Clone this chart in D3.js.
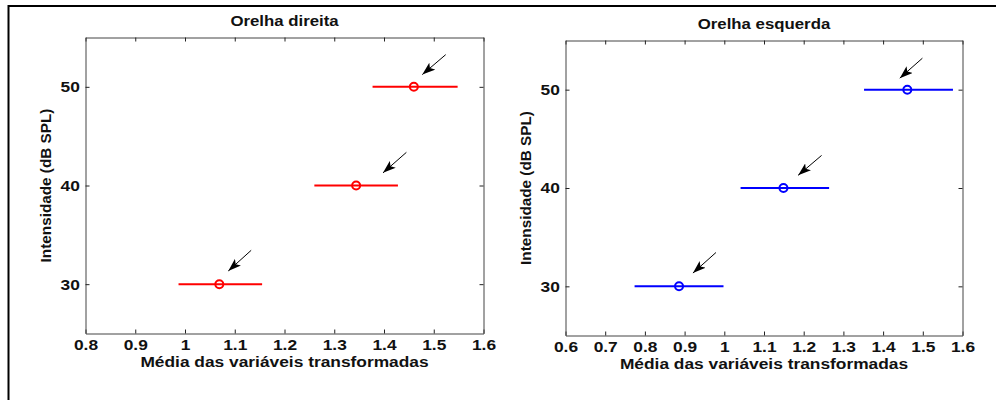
<!DOCTYPE html>
<html>
<head>
<meta charset="utf-8">
<script src="https://cdn.jsdelivr.net/npm/d3@7"></script>
<style>
  body { margin: 0; background: #fff; }
  svg { display: block; font-family: "Liberation Sans", Arial, sans-serif; }
</style>
</head>
<body>
<svg id="chart" width="996" height="400"></svg>
<script>
// intensity levels (dB SPL)
const levels = [30, 40, 50];

// right ear: mean of transformed variables, with interval ends
const rightMean = [1.069, 1.344, 1.460];
const rightLow = [0.987, 1.260, 1.377];
const rightHigh = [1.155, 1.428, 1.548];
// arrow annotations (data coords): tail -> tip
const rightArrowTailX = [1.133, 1.445, 1.524];
const rightArrowTailY = [33.43, 43.36, 53.26];
const rightArrowTipX = [1.087, 1.398, 1.477];
const rightArrowTipY = [31.34, 41.28, 51.24];

// left ear
const leftMean = [0.886, 1.149, 1.461];
const leftLow = [0.774, 1.041, 1.352];
const leftHigh = [0.998, 1.264, 1.576];
const leftArrowTailX = [0.979, 1.245, 1.499];
const leftArrowTailY = [33.44, 43.31, 53.2];
const leftArrowTipX = [0.921, 1.186, 1.442];
const leftArrowTipY = [31.35, 41.29, 51.17];

const yTicks = [30, 40, 50];
const rightXTicks = [0.8, 0.9, 1.0, 1.1, 1.2, 1.3, 1.4, 1.5, 1.6];
const leftXTicks = [0.6, 0.7, 0.8, 0.9, 1.0, 1.1, 1.2, 1.3, 1.4, 1.5, 1.6];

const svg = d3.select("#chart");
// the scanned figure is a little wider than tall, so text gets stretched a bit
const stretch = "scale(1.12,1)";

// figure frame (top and left edges only, as in the scan)
svg.append("line").attr("x1", 8).attr("x2", 996).attr("y1", 6).attr("y2", 6)
  .attr("stroke", "#000").attr("stroke-width", 2);
svg.append("line").attr("x1", 8.5).attr("x2", 8.5).attr("y1", 5).attr("y2", 400)
  .attr("stroke", "#000").attr("stroke-width", 2);

svg.append("defs").append("marker")
  .attr("id", "head")
  .attr("viewBox", "0 0 13 9")
  .attr("refX", 13).attr("refY", 4.5)
  .attr("markerWidth", 13).attr("markerHeight", 9)
  .attr("markerUnits", "userSpaceOnUse")
  .attr("orient", "auto")
  .append("path").attr("d", "M0,0 L13,4.5 L0,9 L3,4.5 Z").attr("fill", "#000");

function panel(opt) {
  const x = d3.scaleLinear().domain(opt.xDomain).range([opt.left, opt.right]);
  const y = d3.scaleLinear().domain([25, 55]).range([opt.bottom, opt.top]);
  const g = svg.append("g");
  const fmt = d => String(+d.toFixed(1));

  // ticks on all four sides, pointing inward
  g.append("g").attr("transform", `translate(0,${opt.bottom})`)
    .call(d3.axisBottom(x).tickValues(opt.xTicks).tickSizeInner(-4).tickSizeOuter(0).tickPadding(6).tickFormat(fmt));
  g.append("g").attr("transform", `translate(0,${opt.top})`)
    .call(d3.axisTop(x).tickValues(opt.xTicks).tickSizeInner(-4).tickSizeOuter(0).tickFormat(""));
  g.append("g").attr("transform", `translate(${opt.left},0)`)
    .call(d3.axisLeft(y).tickValues(yTicks).tickSizeInner(-4).tickSizeOuter(0).tickPadding(5));
  g.append("g").attr("transform", `translate(${opt.right},0)`)
    .call(d3.axisRight(y).tickValues(yTicks).tickSizeInner(-4).tickSizeOuter(0).tickFormat(""));

  g.selectAll(".domain").attr("stroke", "#444");
  g.selectAll(".tick line").attr("stroke", "#222");
  g.selectAll(".tick text").attr("font-size", 15.5).attr("font-weight", "bold")
    .attr("fill", "#111").attr("font-family", "Liberation Sans, Arial, sans-serif")
    .attr("transform", stretch);

  g.append("g").attr("transform", `translate(${(opt.left + opt.right) / 2},${opt.top - 11.5})`)
    .append("text").attr("transform", stretch)
    .attr("text-anchor", "middle").attr("font-size", 15).attr("font-weight", "bold")
    .attr("fill", "#111")
    .text(opt.title);
  g.append("g").attr("transform", `translate(${(opt.left + opt.right) / 2},${opt.bottom + 33})`)
    .append("text").attr("transform", stretch)
    .attr("text-anchor", "middle").attr("font-size", 15.5).attr("font-weight", "bold")
    .attr("fill", "#111")
    .text("Média das variáveis transformadas");
  g.append("text")
    .attr("transform", `translate(${opt.left - 35},${(opt.top + opt.bottom) / 2}) rotate(-90)`)
    .attr("text-anchor", "middle").attr("font-size", 15.3).attr("font-weight", "bold")
    .attr("fill", "#111")
    .text("Intensidade (dB SPL)");

  const rows = levels.map((l, i) => ({
    level: l, mean: opt.mean[i], low: opt.low[i], high: opt.high[i],
    tx: opt.tailX[i], ty: opt.tailY[i], hx: opt.tipX[i], hy: opt.tipY[i]
  }));

  g.selectAll(".bar").data(rows).enter().append("line")
    .attr("x1", d => x(d.low)).attr("x2", d => x(d.high))
    .attr("y1", d => y(d.level)).attr("y2", d => y(d.level))
    .attr("stroke", opt.color).attr("stroke-width", 2);
  g.selectAll(".pt").data(rows).enter().append("circle")
    .attr("cx", d => x(d.mean)).attr("cy", d => y(d.level)).attr("r", 4)
    .attr("fill", "none").attr("stroke", opt.color).attr("stroke-width", 2);
  g.selectAll(".arrow").data(rows).enter().append("line")
    .attr("x1", d => x(d.tx)).attr("y1", d => y(d.ty))
    .attr("x2", d => x(d.hx)).attr("y2", d => y(d.hy))
    .attr("stroke", "#000").attr("stroke-width", 1)
    .attr("marker-end", "url(#head)");
}

panel({
  title: "Orelha direita", color: "#ff0000",
  xDomain: [0.8, 1.6], xTicks: rightXTicks,
  left: 85.5, right: 483.5, top: 37.5, bottom: 333.5,
  mean: rightMean, low: rightLow, high: rightHigh,
  tailX: rightArrowTailX, tailY: rightArrowTailY, tipX: rightArrowTipX, tipY: rightArrowTipY
});
panel({
  title: "Orelha esquerda", color: "#0000ff",
  xDomain: [0.6, 1.6], xTicks: leftXTicks,
  left: 565.5, right: 962.5, top: 40.5, bottom: 335.5,
  mean: leftMean, low: leftLow, high: leftHigh,
  tailX: leftArrowTailX, tailY: leftArrowTailY, tipX: leftArrowTipX, tipY: leftArrowTipY
});
</script>
</body>
</html>
